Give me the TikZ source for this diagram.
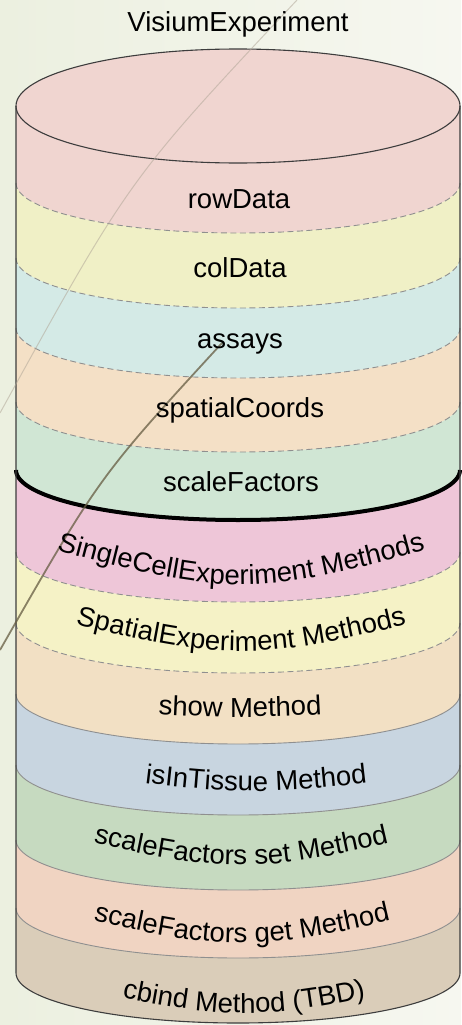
\documentclass[tikz,border=0pt]{standalone}
\usepackage{fontspec}
\setmainfont{Liberation Sans}
\usetikzlibrary{decorations.text}

\newlength{\du}
\setlength{\du}{1pt}
\newcommand{\labelfont}{\fontsize{27.5}{32}\selectfont}
% text bent along a shallow smile, as the method rows show it
\newcommand{\methodlabel}[4]{%
\path[decorate,decoration={text along path,text align=center,text={|\labelfont|#4}}]
 (#1-250,#2-#3) .. controls (#1,#2+#3) .. (#1+250,#2-#3);}

\definecolor{bgleft}{rgb}{0.925, 0.941, 0.878}
\definecolor{bgright}{rgb}{0.965, 0.969, 0.941}
\definecolor{rowdatafill}{rgb}{0.941, 0.835, 0.816}
\definecolor{coldatafill}{rgb}{0.941, 0.941, 0.776}
\definecolor{assaysfill}{rgb}{0.831, 0.918, 0.902}
\definecolor{coordsfill}{rgb}{0.957, 0.878, 0.776}
\definecolor{factorsfill}{rgb}{0.816, 0.902, 0.831}
\definecolor{scefill}{rgb}{0.933, 0.776, 0.847}
\definecolor{spefill}{rgb}{0.961, 0.949, 0.776}
\definecolor{showfill}{rgb}{0.949, 0.878, 0.769}
\definecolor{tissuefill}{rgb}{0.784, 0.835, 0.878}
\definecolor{setfill}{rgb}{0.776, 0.855, 0.753}
\definecolor{getfill}{rgb}{0.941, 0.831, 0.761}
\definecolor{cbindfill}{rgb}{0.855, 0.804, 0.725}
\definecolor{rimcolor}{rgb}{0.240, 0.240, 0.240}
\definecolor{seamcolor}{rgb}{0.560, 0.560, 0.560}

\tikzset{
  layerlabel/.style={anchor=base,font=\labelfont,inner sep=0pt},
  rim/.style={draw=rimcolor,line width=1.1\du},
  dashseam/.style={draw=seamcolor,line width=0.9\du,dash pattern=on 6\du off 3.5\du},
  plainseam/.style={draw=seamcolor,line width=0.9\du},
  splitseam/.style={draw=black,line width=4\du},
  lowarc/.style={x radius=222,y radius=50},
}

\begin{document}
\begin{tikzpicture}[x=1\du,y=-1\du]
\useasboundingbox (0,0) rectangle (461,1025);
\shade[left color=bgleft,right color=bgright] (0,0) rectangle (461,1025);

% layer fills, top to bottom
\fill[rowdatafill] (16,106) arc[start angle=180,end angle=360,x radius=222,y radius=57] -- (460,183) arc[start angle=0,end angle=180,lowarc] -- cycle;
\fill[coldatafill] (16,183) arc[start angle=180,end angle=0,lowarc] -- (460,258) arc[start angle=0,end angle=180,lowarc] -- cycle;
\fill[assaysfill] (16,258) arc[start angle=180,end angle=0,lowarc] -- (460,328) arc[start angle=0,end angle=180,lowarc] -- cycle;
\fill[coordsfill] (16,328) arc[start angle=180,end angle=0,lowarc] -- (460,402) arc[start angle=0,end angle=180,lowarc] -- cycle;
\fill[factorsfill] (16,402) arc[start angle=180,end angle=0,lowarc] -- (460,470) arc[start angle=0,end angle=180,lowarc] -- cycle;
\fill[scefill] (16,470) arc[start angle=180,end angle=0,lowarc] -- (460,552) arc[start angle=0,end angle=180,lowarc] -- cycle;
\fill[spefill] (16,552) arc[start angle=180,end angle=0,lowarc] -- (460,623) arc[start angle=0,end angle=180,lowarc] -- cycle;
\fill[showfill] (16,623) arc[start angle=180,end angle=0,lowarc] -- (460,694) arc[start angle=0,end angle=180,lowarc] -- cycle;
\fill[tissuefill] (16,694) arc[start angle=180,end angle=0,lowarc] -- (460,765) arc[start angle=0,end angle=180,lowarc] -- cycle;
\fill[setfill] (16,765) arc[start angle=180,end angle=0,lowarc] -- (460,840) arc[start angle=0,end angle=180,lowarc] -- cycle;
\fill[getfill] (16,840) arc[start angle=180,end angle=0,lowarc] -- (460,908) arc[start angle=0,end angle=180,lowarc] -- cycle;
\fill[cbindfill] (16,908) arc[start angle=180,end angle=0,lowarc] -- (460,973) arc[start angle=0,end angle=180,lowarc] -- cycle;

% seams between the layers
\draw[dashseam] (16,183) arc[start angle=180,end angle=0,lowarc];
\draw[dashseam] (16,258) arc[start angle=180,end angle=0,lowarc];
\draw[dashseam] (16,328) arc[start angle=180,end angle=0,lowarc];
\draw[dashseam] (16,402) arc[start angle=180,end angle=0,lowarc];
\draw[splitseam] (16,470) arc[start angle=180,end angle=0,lowarc];
\draw[dashseam] (16,552) arc[start angle=180,end angle=0,lowarc];
\draw[dashseam] (16,623) arc[start angle=180,end angle=0,lowarc];
\draw[plainseam] (16,694) arc[start angle=180,end angle=0,lowarc];
\draw[plainseam] (16,765) arc[start angle=180,end angle=0,lowarc];
\draw[plainseam] (16,840) arc[start angle=180,end angle=0,lowarc];
\draw[plainseam] (16,908) arc[start angle=180,end angle=0,lowarc];

% outline of the drum
\draw[rim] (238,106) ellipse[x radius=222,y radius=57];
\draw[rim] (16,106) -- (16,973) arc[start angle=180,end angle=0,lowarc] -- (460,106);

% the two faint strokes of the slide behind
\draw[draw={rgb,1:red,0.70;green,0.66;blue,0.60},line width=1\du,opacity=0.55] (297,0) .. controls (129,179) .. (0,413);
\draw[draw={rgb,1:red,0.40;green,0.36;blue,0.26},line width=1.8\du,opacity=0.75] (222,343) .. controls (99,477) .. (0,650);

\node[layerlabel] (title) at (238,32) {VisiumExperiment};
\node[layerlabel] (rowdata) at (239,208) {rowData};
\node[layerlabel] (coldata) at (240,277) {colData};
\node[layerlabel] (assays) at (240,348) {assays};
\node[layerlabel] (spatialcoords) at (240,417) {spatialCoords};
\node[layerlabel] (scalefactors) at (241,491) {scaleFactors};

\methodlabel{241}{567}{35}{SingleCellExperiment Methods}
\methodlabel{241}{635}{32}{SpatialExperiment Methods}
\methodlabel{240}{712}{10}{show Method}
\methodlabel{256}{782}{18}{isInTissue Method}
\methodlabel{241}{849}{32}{scaleFactors set Method}
\methodlabel{242}{927}{32}{scaleFactors get Method}
\methodlabel{244}{998}{30}{cbind Method (TBD)}
\end{tikzpicture}
\end{document}
